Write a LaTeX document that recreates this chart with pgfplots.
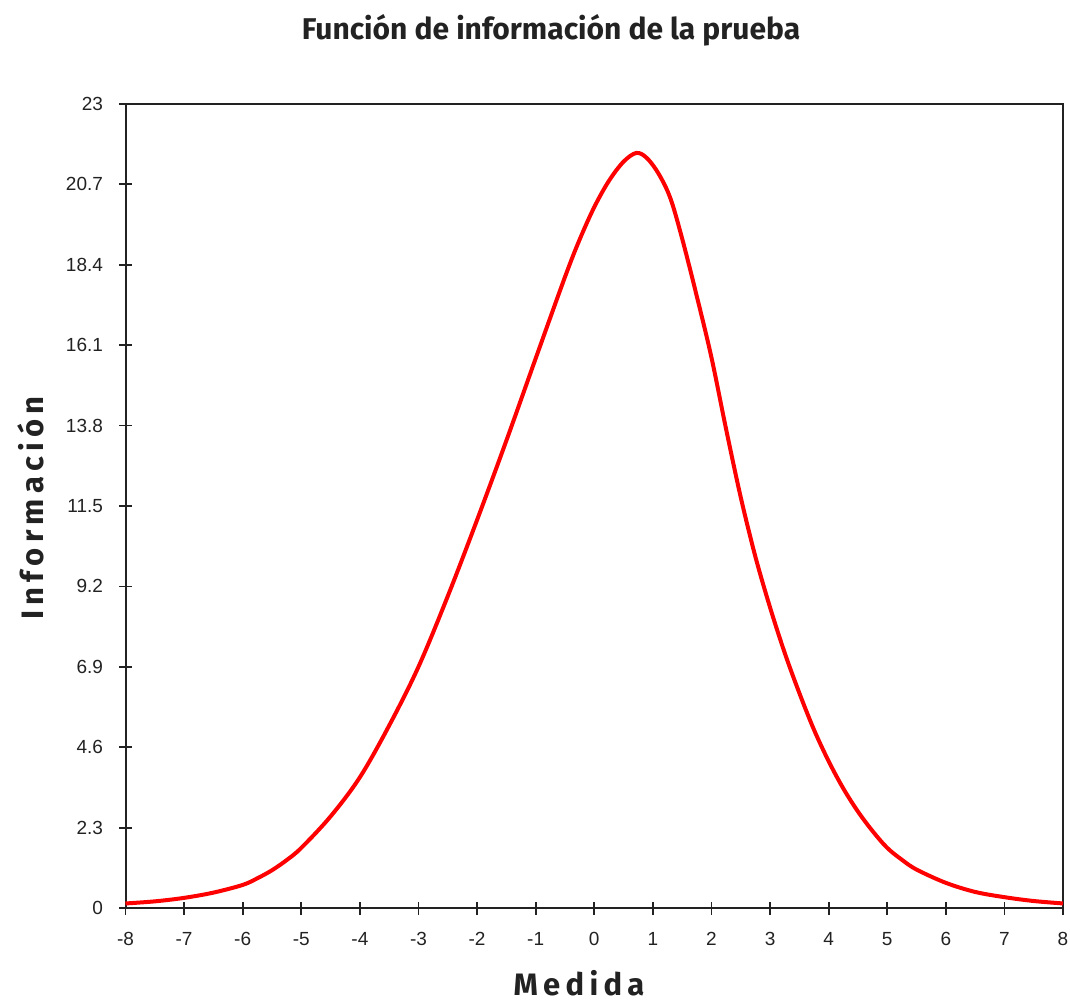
\documentclass[border=0pt]{standalone}
\usepackage{fontspec}
\setmainfont{Liberation Sans}
\newfontfamily\titlefont{Fira Sans}
\newfontfamily\labfont[LetterSpace=17]{Fira Sans}
\usepackage{pgfplots}
\pgfplotsset{compat=1.18}
\definecolor{axgray}{HTML}{222222}
\begin{document}
\begin{tikzpicture}[x=1pt,y=1pt]
\path[use as bounding box] (0,0) rectangle (535,501);
\begin{axis}[
  at={(62.75pt,47pt)}, anchor=south west,
  width=468.75pt, height=402pt, scale only axis,
  xmin=-8, xmax=8, ymin=0, ymax=23,
  xtick={-8,-7,-6,-5,-4,-3,-2,-1,0,1,2,3,4,5,6,7,8},
  xticklabels={-8,-7,-6,-5,-4,-3,-2,-1,0,1,2,3,4,5,6,7,8},
  ytick={0,2.3,4.6,6.9,9.2,11.5,13.8,16.1,18.4,20.7,23},
  yticklabels={0,2.3,4.6,6.9,9.2,11.5,13.8,16.1,18.4,20.7,23},
  xtick pos=bottom, ytick pos=left,
  tick align=center, major tick length=6.5pt,
  axis line style={axgray, line width=1pt},
  every tick/.style={axgray, line width=0.9pt},
  tick label style={font=\fontsize{9.5}{10}\selectfont, text=axgray},
  xticklabel style={yshift=-5.5pt},
  yticklabel style={xshift=-4.5pt},
  clip=false,
]
\addplot[red, line width=2pt, smooth, tension=0.55] coordinates {
(-8,0.13) (-7.5,0.19) (-7,0.29) (-6.5,0.44) (-6,0.66) (-5.75,0.85) (-5.5,1.08)
(-5.25,1.37) (-5,1.72) (-4.5,2.62) (-4,3.74) (-3.5,5.22) (-3,6.9) (-2.5,8.92)
(-2,11.1) (-1.5,13.37) (-1,15.72) (-0.5,18.05) (-0.25,19.12) (0,20.05)
(0.25,20.8) (0.5,21.35) (0.72,21.6) (0.9,21.45) (1.1,21.0) (1.3,20.3)
(1.5,19.15) (1.75,17.5) (2,15.75) (2.25,13.7) (2.5,11.75) (2.75,10.05)
(3,8.6) (3.25,7.3) (3.5,6.15) (3.75,5.1) (4,4.2) (4.25,3.42) (4.5,2.76)
(4.75,2.2) (5,1.72) (5.25,1.38) (5.5,1.1) (6,0.72) (6.5,0.46) (7,0.31)
(7.5,0.2) (8,0.13)
};
\end{axis}
\node[anchor=base, font=\titlefont\bfseries\fontsize{15}{17}\selectfont, text=axgray] at (275.5,481) {Función de información de la prueba};
\node[anchor=base, font=\labfont\bfseries\fontsize{15.5}{17}\selectfont, text=axgray] at (289.5,3.5) {Medida};
\node[anchor=base, rotate=90, font=\labfont\bfseries\fontsize{15.5}{17}\selectfont, text=axgray] at (21.5,247) {Información};
\end{tikzpicture}
\end{document}
